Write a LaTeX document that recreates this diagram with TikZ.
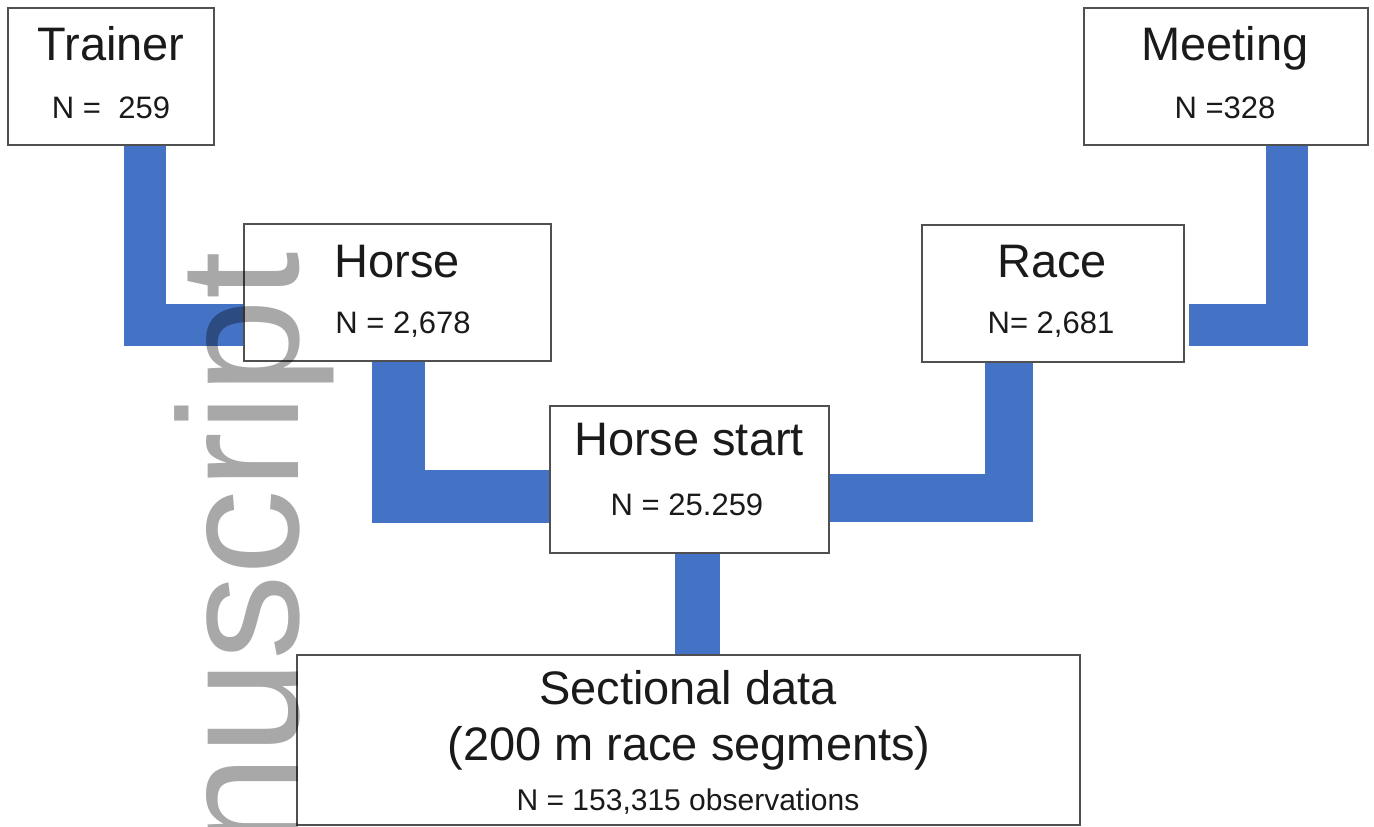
\documentclass[tikz,border=0pt]{standalone}
\usepackage{fontspec}
\setmainfont{Liberation Sans}
\definecolor{connblue}{HTML}{4472C4}
\definecolor{boxgray}{HTML}{505050}
\definecolor{textblack}{HTML}{1A1A1A}
\begin{document}
\begin{tikzpicture}[x=1pt,y=-1pt,
  box/.style={draw=boxgray, line width=1.6pt, fill=white, inner sep=0pt, anchor=north west},
  conn/.style={draw=connblue, line cap=butt, line join=miter},
  ttl/.style={anchor=base, inner sep=0pt, font=\fontsize{47}{56}\selectfont, text=textblack},
  num/.style={anchor=base, inner sep=0pt, font=\fontsize{31}{37}\selectfont, text=textblack},
  wmark/.style={rotate=90, anchor=base east, inner sep=0pt, text=black, text opacity=0.34,
    font=\fontsize{171}{200}\selectfont}]
\fill[white] (0,0) rectangle (1374,827);
\useasboundingbox (0,0) rectangle (1374,827);

% helper coordinates for connector positions
\coordinate (cA) at (144.5,325);
\coordinate (cB) at (1287,325);
\coordinate (cC) at (398,496);
\coordinate (cD) at (1008.5,498);
\coordinate (cE) at (697.5,0);

% boxes (positions only, drawn later on top of connectors)
\path
  node[box, minimum width=206pt, minimum height=137pt] (trainer) at (7,7) {}
  node[box, minimum width=284pt, minimum height=137pt] (meeting) at (1083,7) {}
  node[box, minimum width=307pt, minimum height=137pt] (horse) at (243,223) {}
  node[box, minimum width=262pt, minimum height=137pt] (race) at (921,224) {}
  node[box, minimum width=279pt, minimum height=147pt] (hstart) at (549,405) {}
  node[box, minimum width=783pt, minimum height=170pt] (sect) at (296,654) {};

% connectors
\draw[conn, line width=42pt] (trainer.south -| cA) |- (horse.west |- cA);
\draw[conn, line width=42pt] (meeting.south -| cB) |- ([xshift=4pt]race.east |- cB);
\draw[conn, line width=53pt] (horse.south -| cC) |- (hstart.west |- cC);
\draw[conn, line width=48pt] (race.south -| cD) |- (hstart.east |- cD);
\draw[conn, line width=45pt] (hstart.south -| cE) -- (sect.north -| cE);

% redraw boxes on top
\path
  node[box, minimum width=206pt, minimum height=137pt] (trainerB) at (7,7) {}
  node[box, minimum width=284pt, minimum height=137pt] (meetingB) at (1083,7) {}
  node[box, minimum width=307pt, minimum height=137pt] (horseB) at (243,223) {}
  node[box, minimum width=262pt, minimum height=137pt] (raceB) at (921,224) {}
  node[box, minimum width=279pt, minimum height=147pt] (hstartB) at (549,405) {}
  node[box, minimum width=783pt, minimum height=170pt] (sectB) at (296,654) {};

% texts
\node[ttl] (tTrainer) at (111,60) {Trainer};
\node[num] (nTrainer) at (111,118) {N =\ \ 259};
\node[ttl] (tMeeting) at (1225,60) {Meeting};
\node[num] (nMeeting) at (1225,118) {N =328};
\node[ttl] (tHorse) at (397,277) {Horse};
\node[num] (nHorse) at (403,333) {N = 2,678};
\node[ttl] (tRace) at (1052,277) {Race};
\node[num] (nRace) at (1051,333) {N= 2,681};
\node[ttl] (tHstart) at (689,455) {Horse start};
\node[num] (nHstart) at (687,515) {N = 25.259};
\node[ttl] (tSect1) at (688,704) {Sectional data};
\node[ttl] (tSect2) at (689,760) {(200 m race segments)};
\node[num, font=\fontsize{30}{36}\selectfont] (nSect) at (688,810) {N = 153,315 observations};

% watermark
\node[wmark] (wm) at (298,252) {nuscript};
\end{tikzpicture}
\end{document}
